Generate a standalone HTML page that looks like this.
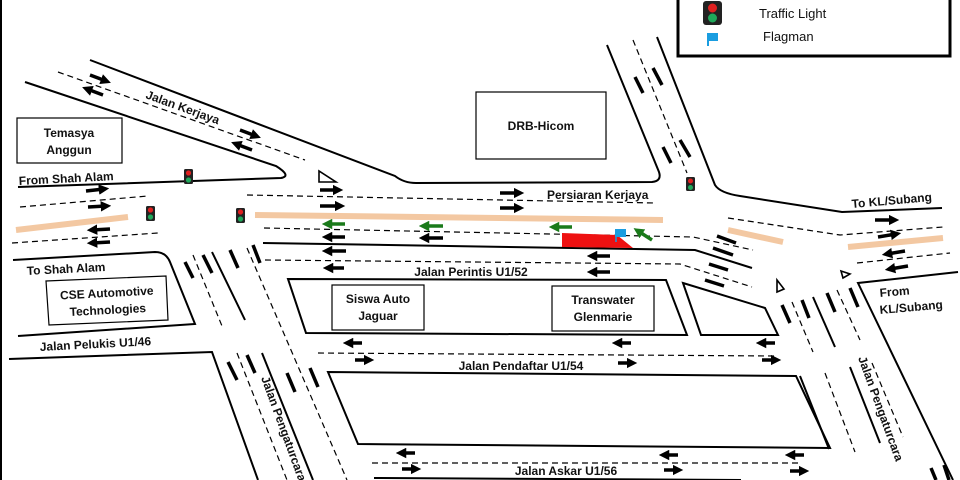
<!DOCTYPE html>
<html><head><meta charset="utf-8"><style>
body{margin:0;background:#fff;}
svg{display:block;}
text{font-family:"Liberation Sans",sans-serif;font-weight:bold;font-size:12px;fill:#111;}
</style></head><body>
<svg width="960" height="480" viewBox="0 0 960 480" xmlns="http://www.w3.org/2000/svg">
<defs>
<marker id="h" markerWidth="3" markerHeight="3" refX="1.5" refY="1.5" orient="auto" markerUnits="strokeWidth"><path d="M0,0 L3,1.5 L0,3z" fill="#000"/></marker>
<marker id="hg" markerWidth="3" markerHeight="3" refX="1.5" refY="1.5" orient="auto" markerUnits="strokeWidth"><path d="M0,0 L3,1.5 L0,3z" fill="#1a7a1a"/></marker>
</defs>
<rect x="0" y="0" width="2" height="480" fill="#000"/>
<g fill="none" stroke="#000" stroke-width="2">
<path d="M90,60 L395,176 Q404,183 416,183 L652,182 Q662,181 659,172 L607,45"/>
<path d="M657,37 L715,185 Q720,193 740,196 L842,212 L942,208"/>
<path d="M25,82 L276,166 Q292,176 281,178 L18,187"/>
<path d="M263,243 L695,250 L752,268"/>
<path d="M13,260 L155,252 Q166,252 170,262 L195,324 L18,336"/>
<path d="M9,359 L212,352 L258,480"/>
<path d="M212,252 L245,320"/>
<path d="M262,353 L313,480"/>
<path d="M288,279 L666,280 L687,335 L306,333 Z"/>
<path d="M683,283 L765,308 L778,335 L701,335 Z"/>
<path d="M328,372 L796,376 L830,448 L358,444 Z"/>
<path d="M374,478 L741,480"/>
<path d="M800,376 L829,449" />
<path d="M813,297 L835,347"/>
<path d="M850,367 L880,443"/>
<path d="M958,272 L858,283 L953,480"/>
</g>
<g fill="none" stroke="#000" stroke-width="1.2" stroke-dasharray="6,4">
<path d="M58,72 L305,160"/>
<path d="M20,207 L148,196"/>
<path d="M12,243 L158,233"/>
<path d="M247,195 L655,203"/>
<path d="M264,228 L693,237 L753,250"/>
<path d="M265,260 L680,264 L752,287"/>
<path d="M633,40 L687,173"/>
<path d="M728,218 L840,235 L943,227"/>
<path d="M857,263 L950,253"/>
<path d="M193,255 L222,326"/>
<path d="M247,248 L347,480"/>
<path d="M237,353 L287,480"/>
<path d="M318,353 L775,356"/>
<path d="M372,463 L800,463"/>
<path d="M792,302 L813,352"/>
<path d="M837,290 L860,340"/>
<path d="M825,373 L855,452"/>
<path d="M872,363 L903,437"/>
</g>
<g stroke="#f3c8a2" stroke-width="6">
<line x1="16" y1="230" x2="128" y2="217"/>
<line x1="255" y1="215" x2="663" y2="220"/>
<line x1="728" y1="230" x2="783" y2="242"/>
<line x1="848" y1="247" x2="943" y2="238"/>
</g>
<polygon points="562,233 617,235 633,248 562,247" fill="#ee1111"/>
<g stroke="#000" stroke-width="3.5" marker-end="url(#h)">
<line x1="90" y1="75" x2="106" y2="81"/><line x1="103" y1="95" x2="87" y2="89"/>
<line x1="240" y1="130" x2="256" y2="136"/><line x1="252" y1="150" x2="236" y2="144"/>
<line x1="86" y1="191" x2="104" y2="189"/><line x1="88" y1="207" x2="106" y2="206"/>
<line x1="110" y1="229" x2="92" y2="230"/><line x1="110" y1="242" x2="92" y2="243"/>
<line x1="320" y1="190" x2="338" y2="190"/><line x1="320" y1="206" x2="340" y2="206"/>
<line x1="345" y1="237" x2="327" y2="237"/><line x1="443" y1="238" x2="424" y2="238"/>
<line x1="346" y1="251" x2="327" y2="251"/>
<line x1="500" y1="193" x2="519" y2="193"/><line x1="500" y1="208" x2="519" y2="208"/>
<line x1="610" y1="256" x2="592" y2="256"/><line x1="610" y1="272" x2="592" y2="272"/>
<line x1="875" y1="220" x2="894" y2="220"/><line x1="878" y1="237" x2="896" y2="234"/>
<line x1="905" y1="251" x2="887" y2="254"/><line x1="908" y1="266" x2="890" y2="269"/>
<line x1="344" y1="268" x2="328" y2="268"/>
<line x1="362" y1="343" x2="348" y2="343"/><line x1="631" y1="343" x2="617" y2="343"/><line x1="775" y1="343" x2="761" y2="343"/>
<line x1="355" y1="360" x2="369" y2="360"/><line x1="618" y1="363" x2="632" y2="363"/><line x1="762" y1="360" x2="776" y2="360"/>
<line x1="415" y1="453" x2="401" y2="453"/><line x1="678" y1="455" x2="664" y2="455"/><line x1="804" y1="455" x2="790" y2="455"/>
<line x1="402" y1="469" x2="416" y2="469"/><line x1="664" y1="470" x2="678" y2="470"/><line x1="790" y1="471" x2="804" y2="471"/>
</g>
<g stroke="#000" stroke-width="3.5">
<line x1="635" y1="77" x2="643" y2="93"/><line x1="653" y1="68" x2="662" y2="85"/>
<line x1="663" y1="147" x2="671" y2="163"/><line x1="680" y1="140" x2="690" y2="157"/>
<line x1="717" y1="236" x2="736" y2="243"/><line x1="713" y1="248" x2="733" y2="255"/>
<line x1="709" y1="264" x2="728" y2="270"/><line x1="705" y1="280" x2="724" y2="286"/>
<line x1="185" y1="262" x2="193" y2="278"/><line x1="203" y1="255" x2="212" y2="273"/>
<line x1="230" y1="250" x2="238" y2="268"/><line x1="253" y1="245" x2="260" y2="263"/>
<line x1="228" y1="362" x2="237" y2="380"/><line x1="247" y1="355" x2="255" y2="373"/>
<line x1="287" y1="373" x2="295" y2="392"/><line x1="310" y1="368" x2="318" y2="387"/>
<line x1="782" y1="305" x2="790" y2="323"/><line x1="802" y1="300" x2="809" y2="318"/>
<line x1="827" y1="293" x2="835" y2="312"/><line x1="850" y1="288" x2="858" y2="307"/>
<line x1="931" y1="468" x2="936" y2="480"/><line x1="944" y1="465" x2="949" y2="480"/>
</g>
<g stroke="#1a7a1a" stroke-width="3.5" marker-end="url(#hg)">
<line x1="345" y1="224" x2="327" y2="224"/><line x1="443" y1="226" x2="424" y2="226"/>
<line x1="572" y1="227" x2="554" y2="227"/><line x1="652" y1="240" x2="638" y2="231"/>
</g>
<g fill="#fff" stroke="#000" stroke-width="1.6">
<polygon points="319,171 319,182 336,182"/>
<polygon points="777,280 784,289 777,292"/>
<polygon points="841,271 850,274 843,278"/>
</g>
<g>
<rect x="184" y="169" width="9" height="15" rx="1.5" fill="#222"/><circle cx="188.5" cy="173" r="2.6" fill="#e02020"/><circle cx="188.5" cy="180" r="2.6" fill="#1fa85a"/>
<rect x="146" y="206" width="9" height="15" rx="1.5" fill="#222"/><circle cx="150.5" cy="210" r="2.6" fill="#e02020"/><circle cx="150.5" cy="217" r="2.6" fill="#1fa85a"/>
<rect x="236" y="208" width="9" height="15" rx="1.5" fill="#222"/><circle cx="240.5" cy="212" r="2.6" fill="#e02020"/><circle cx="240.5" cy="219" r="2.6" fill="#1fa85a"/>
<rect x="686" y="177" width="9" height="14" rx="1.5" fill="#222"/><circle cx="690.5" cy="181" r="2.5" fill="#e02020"/><circle cx="690.5" cy="187.5" r="2.5" fill="#1fa85a"/>
</g>
<rect x="615" y="229" width="11" height="8" fill="#1a9de0"/><line x1="616" y1="229" x2="616" y2="242" stroke="#1a9de0" stroke-width="1.5"/>
<rect x="678" y="-3" width="272" height="59" fill="#fff" stroke="#000" stroke-width="3"/>
<rect x="703" y="1" width="19" height="24" rx="3" fill="#222"/><circle cx="712.5" cy="8" r="4.5" fill="#e02020"/><circle cx="712.5" cy="18" r="4.5" fill="#1fa85a"/>
<path d="M707,33 H718 V41 H709 V46 H707 Z" fill="#1a9de0"/>
<text x="759" y="18" style="font-weight:normal;font-size:13px">Traffic Light</text>
<text x="763" y="41" style="font-weight:normal;font-size:13px">Flagman</text>
<g fill="#fff" stroke="#000" stroke-width="1.2">
<rect x="17" y="118" width="105" height="45"/>
<rect x="476" y="92" width="130" height="67"/>
<polygon points="46,281 166,276 168,320 49,325"/>
<rect x="332" y="285" width="92" height="45"/>
<rect x="552" y="286" width="102" height="45"/>
</g>
<text x="69" y="137" text-anchor="middle">Temasya</text>
<text x="69" y="154" text-anchor="middle">Anggun</text>
<text x="541" y="130" text-anchor="middle">DRB-Hicom</text>
<text transform="translate(145,98) rotate(20)">Jalan Kerjaya</text>
<text transform="translate(19,185) rotate(-3)">From Shah Alam</text>
<text x="547" y="199">Persiaran Kerjaya</text>
<text transform="translate(852,208) rotate(-5)">To KL/Subang</text>
<text transform="translate(27,275) rotate(-3)">To Shah Alam</text>
<text transform="translate(107,297) rotate(-3)" text-anchor="middle">CSE Automotive</text>
<text transform="translate(108,314) rotate(-3)" text-anchor="middle">Technologies</text>
<text x="471" y="276" text-anchor="middle">Jalan Perintis U1/52</text>
<text x="378" y="303" text-anchor="middle">Siswa Auto</text>
<text x="378" y="320" text-anchor="middle">Jaguar</text>
<text x="603" y="304" text-anchor="middle">Transwater</text>
<text x="603" y="321" text-anchor="middle">Glenmarie</text>
<text transform="translate(880,297) rotate(-5)">From</text>
<text transform="translate(880,314) rotate(-5)">KL/Subang</text>
<text transform="translate(40,351) rotate(-3)">Jalan Pelukis U1/46</text>
<text x="521" y="370" text-anchor="middle">Jalan Pendaftar U1/54</text>
<text x="566" y="475" text-anchor="middle">Jalan Askar U1/56</text>
<text transform="translate(261,378) rotate(70)">Jalan Pengaturcara</text>
<text transform="translate(858,358) rotate(70)">Jalan Pengaturcara</text>
</svg>
</body></html>
